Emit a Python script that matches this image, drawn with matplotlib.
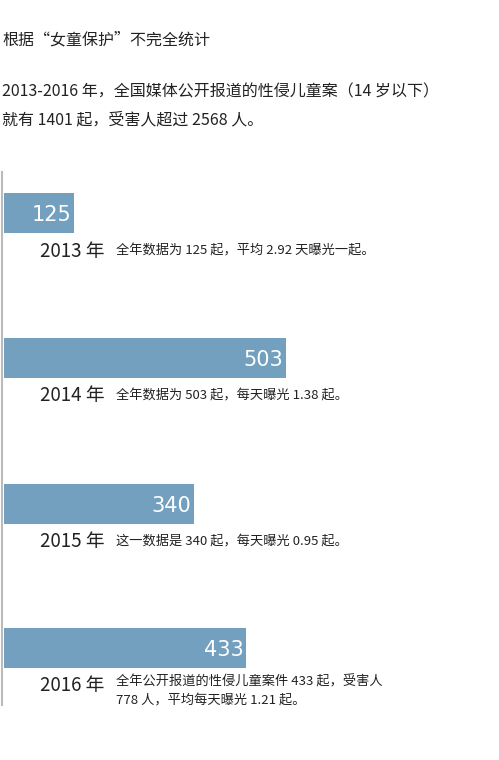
import matplotlib.pyplot as plt

plt.rcParams['font.family'] = ['Noto Sans CJK SC', 'DejaVu Sans']

years = ["2013", "2014", "2015", "2016"]
cases = [125, 503, 340, 433]
notes = [
    "全年数据为 125 起，平均 2.92 天曝光一起。",
    "全年数据为 503 起，每天曝光 1.38 起。",
    "这一数据是 340 起，每天曝光 0.95 起。",
    "全年公开报道的性侵儿童案件 433 起，受害人\n778 人，平均每天曝光 1.21 起。",
]

W, H = 499, 760
px = 0.56  # pixels per case
bar_y = [213, 358, 504, 648]
bar_h = 40

fig = plt.figure(figsize=(W / 100, H / 100), dpi=100)
ax = fig.add_axes([0, 0, 1, 1])
ax.set_xlim(-4 / px, (W - 4) / px)
ax.set_ylim(H, 0)
ax.axis("off")

ax.barh(bar_y, cases, height=bar_h, color="#74a0c0", left=0)
ax.plot([-2 / px, -2 / px], [172, 705], color="#bbbbbb", lw=1.5)

for y, v, yr, note in zip(bar_y, cases, years, notes):
    ax.text(v - 3 / px, y + 2, str(v), color="white", fontsize=15, ha="right", va="center",
            family=["DejaVu Sans"])
    ty = y + 38
    ax.text(36 / px, ty, yr + " 年", fontsize=13.5, va="center", color="#222222")
    if "\n" in note:
        ax.text(112 / px, ty - 11, note, fontsize=9.5, va="top", color="#222222", linespacing=1.6)
    else:
        ax.text(112 / px, ty, note, fontsize=9.5, va="center", color="#222222")

fig.text(2 / W, 1 - 40 / H, "根据“女童保护”不完全统计", fontsize=11.5, va="center", color="#222222")
fig.text(2 / W, 1 - 92 / H, "2013-2016 年，全国媒体公开报道的性侵儿童案（14 岁以下）", fontsize=11.5,
         va="center", color="#222222")
fig.text(2 / W, 1 - 120 / H, "就有 1401 起，受害人超过 2568 人。", fontsize=11.5, va="center", color="#222222")

fig.savefig("out.png", dpi=100, facecolor="white")
